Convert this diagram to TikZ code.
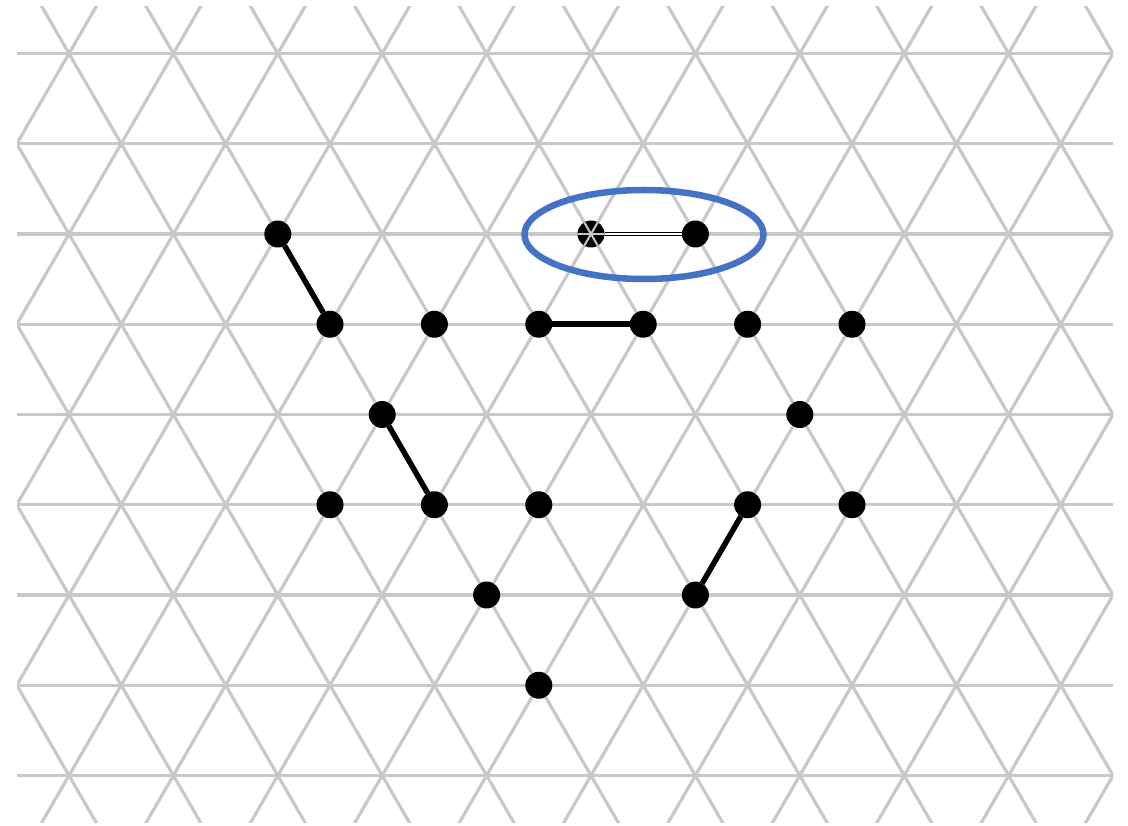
\documentclass[tikz,border=0pt]{standalone}
\definecolor{gridgray}{RGB}{200,200,200}
\definecolor{selblue}{RGB}{68,114,196}
\begin{document}
\begin{tikzpicture}[x=1pt,y=-1pt,
  gridline/.style={draw=gridgray,line width=3.2pt},
  dot/.style={circle,fill=black,inner sep=0pt,minimum size=27pt,outer sep=0pt},
  link/.style={draw=black,line width=5.5pt},
  dlink/.style={draw=black,line width=0.9pt,double=white,double distance=1.6pt},
  sel/.style={draw=selblue,line width=6.5pt}]
\useasboundingbox (0,0) rectangle (1128,826);
% triangular grid
\begin{scope}
  \clip (17,7) rectangle (1113,822);
  \foreach \r in {0,...,8}
    \draw[gridline] (17,{53.5+\r*90.25}) -- (1113,{53.5+\r*90.25});
  \foreach \k in {-6,...,16} {
    \draw[gridline] ({69+\k*104.4-52.2},{53.5-90.25}) -- ({69+\k*104.4+52.2*9},{53.5+9*90.25});
    \draw[gridline] ({69+\k*104.4+52.2},{53.5-90.25}) -- ({69+\k*104.4-52.2*9},{53.5+9*90.25});
  }
\end{scope}
% dots
\node[dot] (a1) at (277.8,234) {};
\node[dot] (a2) at (591.0,234) {};
\node[dot] (a3) at (695.4,234) {};
\node[dot] (b1) at (330.0,324.25) {};
\node[dot] (b2) at (434.4,324.25) {};
\node[dot] (b3) at (538.8,324.25) {};
\node[dot] (b4) at (643.2,324.25) {};
\node[dot] (b5) at (747.6,324.25) {};
\node[dot] (b6) at (852.0,324.25) {};
\node[dot] (c1) at (382.2,414.5) {};
\node[dot] (c2) at (799.8,414.5) {};
\node[dot] (d1) at (330.0,504.75) {};
\node[dot] (d2) at (434.4,504.75) {};
\node[dot] (d3) at (538.8,504.75) {};
\node[dot] (d4) at (747.6,504.75) {};
\node[dot] (d5) at (852.0,504.75) {};
\node[dot] (e1) at (486.6,595) {};
\node[dot] (e2) at (695.4,595) {};
\node[dot] (f1) at (538.8,685.25) {};
% grid lines crossing the marked dot
\begin{scope}
  \clip (a2) circle (13.5);
  \draw[gridline,line width=2pt] ([xshift=-20pt]a2.center) -- ([xshift=20pt]a2.center);
  \draw[gridline,line width=2pt] ([xshift=-11.6pt,yshift=20pt]a2.center) -- ([xshift=11.6pt,yshift=-20pt]a2.center);
  \draw[gridline,line width=2pt] ([xshift=11.6pt,yshift=20pt]a2.center) -- ([xshift=-11.6pt,yshift=-20pt]a2.center);
\end{scope}
% connectors
\draw[link] (a1) -- (b1);
\draw[link] (b3) -- (b4);
\draw[link] (c1) -- (d2);
\draw[link] (d4) -- (e2);
\draw[dlink] (a2) -- (a3);
% selection ellipse
\draw[sel] (644,234.5) ellipse [x radius=119.5, y radius=44.5];
\end{tikzpicture}
\end{document}
